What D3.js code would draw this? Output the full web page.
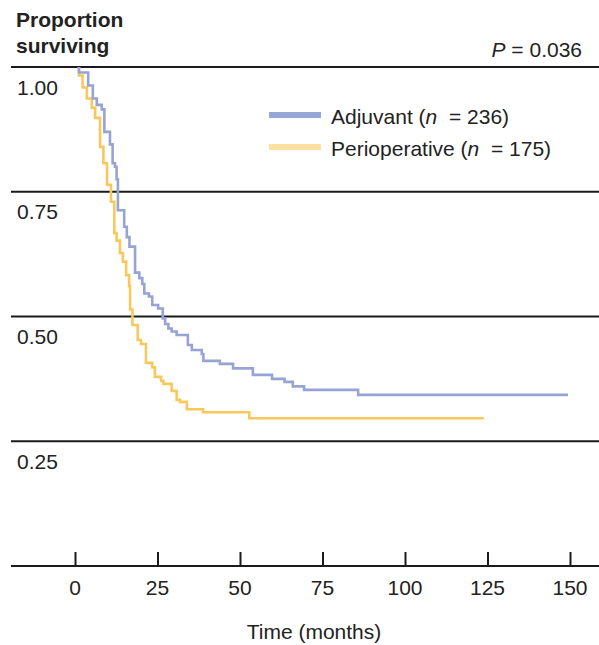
<!DOCTYPE html>
<html>
<head>
<meta charset="utf-8">
<script src="https://cdn.jsdelivr.net/npm/d3@7"></script>
<style>
  html, body { margin: 0; padding: 0; background: #fff; }
  svg { display: block; font-family: "Liberation Sans", Arial, Helvetica, sans-serif; }
</style>
</head>
<body>
<svg id="chart" width="599" height="645"></svg>
<script>
// Kaplan–Meier estimates: drop times (months) and the proportion surviving before each drop
const adjuvantTimes = [1.2, 4.0, 5.4, 6.6, 8.1, 8.9, 10.6, 11.4, 12.1, 12.6, 13.0, 14.9, 15.7, 16.5, 18.2, 19.5, 20.4, 21.0, 22.4, 23.4, 25.2, 26.6, 27.3, 28.3, 29.3, 30.8, 34.2, 35.4, 38.4, 38.9, 43.9, 47.9, 53.9, 59.7, 63.5, 66.0, 69.4, 85.8, 149.4];
const adjuvantSurvival = [1.000, 0.989, 0.963, 0.937, 0.924, 0.915, 0.870, 0.845, 0.807, 0.800, 0.775, 0.713, 0.680, 0.659, 0.640, 0.588, 0.577, 0.565, 0.546, 0.540, 0.523, 0.516, 0.496, 0.485, 0.476, 0.470, 0.463, 0.443, 0.433, 0.425, 0.411, 0.405, 0.396, 0.383, 0.375, 0.369, 0.360, 0.353, 0.343];
// perioperative arm: drop times and the proportion surviving after each drop
const periopTimes = [1.2, 2.3, 3.6, 5.1, 6.1, 7.6, 8.6, 9.7, 10.9, 11.9, 12.6, 13.6, 14.5, 15.5, 16.4, 16.7, 17.4, 19.0, 20.0, 21.5, 23.4, 24.2, 26.1, 26.8, 29.3, 30.8, 31.8, 33.9, 38.8, 52.8, 123.9];
const periopSurvival = [0.983, 0.959, 0.937, 0.918, 0.898, 0.840, 0.807, 0.764, 0.730, 0.667, 0.652, 0.627, 0.610, 0.583, 0.561, 0.514, 0.483, 0.453, 0.445, 0.407, 0.398, 0.379, 0.371, 0.365, 0.351, 0.333, 0.329, 0.314, 0.308, 0.296, 0.296];

const xTicks = [0, 25, 50, 75, 100, 125, 150];
const yTicks = [1.00, 0.75, 0.50, 0.25];
const yTickLabels = ["1.00", "0.75", "0.50", "0.25"];

const seriesNames = ["Adjuvant", "Perioperative"];
const seriesN = [236, 175];

const svg = d3.select("#chart");
const FS = 21;

const x = d3.scaleLinear().domain([0, 150]).range([75, 570]);
const y = d3.scaleLinear().domain([0, 1]).range([566, 67]);

const lineColor = "#1b1b1b";
const textColor = "#222";
const blue = "#97a4d3";
const yellow = "#f8c85c";

// horizontal reference lines at each labelled proportion
svg.append("g").selectAll("line")
  .data(yTicks)
  .join("line")
  .attr("x1", 11).attr("x2", 599)
  .attr("y1", d => y(d)).attr("y2", d => y(d))
  .attr("stroke", lineColor).attr("stroke-width", 2);

svg.append("g").selectAll("text")
  .data(yTicks)
  .join("text")
  .attr("x", 17)
  .attr("y", d => y(d) + 27.5)
  .attr("font-size", FS)
  .attr("fill", textColor)
  .text((d, i) => yTickLabels[i]);

// x axis: baseline, upward ticks, labels underneath
const xAxis = d3.axisTop(x).tickValues(xTicks).tickSize(14).tickFormat("");
const gx = svg.append("g").attr("transform", "translate(0,566)").call(xAxis);
gx.select(".domain").remove();
gx.selectAll(".tick line").attr("stroke", lineColor).attr("stroke-width", 2);
svg.append("line")
  .attr("x1", 11).attr("x2", 599).attr("y1", 566).attr("y2", 566)
  .attr("stroke", lineColor).attr("stroke-width", 2);

svg.append("g").selectAll("text")
  .data(xTicks)
  .join("text")
  .attr("x", d => x(d))
  .attr("y", 594.5)
  .attr("text-anchor", "middle")
  .attr("font-size", FS)
  .attr("fill", textColor)
  .text(d => d);

svg.append("text")
  .attr("x", 314).attr("y", 639)
  .attr("text-anchor", "middle")
  .attr("font-size", FS)
  .attr("fill", textColor)
  .text("Time (months)");

// y axis title, two lines
const yTitle = svg.append("text")
  .attr("font-size", FS).attr("font-weight", "bold").attr("fill", textColor);
yTitle.append("tspan").attr("x", 16).attr("y", 26.5).text("Proportion");
yTitle.append("tspan").attr("x", 16).attr("y", 52.5).text("surviving");

// log-rank p value
const pText = svg.append("text")
  .attr("x", 582).attr("y", 56.5)
  .attr("text-anchor", "end")
  .attr("font-size", FS).attr("fill", textColor);
pText.append("tspan").attr("font-style", "italic").text("P");
pText.append("tspan").text("\u00a0= 0.036");

// survival step curves
const stepLine = d3.line()
  .x(d => x(d[0]))
  .y(d => y(d[1]))
  .curve(d3.curveStepAfter);

// adjuvant: each level holds from its own time until the next drop
const adjData = [[adjuvantTimes[0], 1.0]];
for (let i = 0; i < adjuvantTimes.length - 1; i++) {
  adjData.push([adjuvantTimes[i], adjuvantSurvival[i + 1]]);
}
adjData.push([adjuvantTimes[adjuvantTimes.length - 1], adjuvantSurvival[adjuvantSurvival.length - 1]]);

// perioperative: level after each drop, starting from 1.0
const perData = [[periopTimes[0], 1.0]];
periopTimes.forEach((t, i) => perData.push([t, periopSurvival[i]]));

svg.append("path")
  .datum(perData)
  .attr("d", stepLine)
  .attr("fill", "none")
  .attr("stroke", yellow)
  .attr("stroke-width", 2.6);

svg.append("path")
  .datum(adjData)
  .attr("d", stepLine)
  .attr("fill", "none")
  .attr("stroke", blue)
  .attr("stroke-width", 2.6);

// legend
const legendColors = ["#98a6d6", "#fce2a2"];
const legendY = [115, 147];
const lg = svg.append("g");
seriesNames.forEach((name, i) => {
  lg.append("line")
    .attr("x1", 269).attr("x2", 321)
    .attr("y1", legendY[i]).attr("y2", legendY[i])
    .attr("stroke", legendColors[i]).attr("stroke-width", 6);
  const t = lg.append("text")
    .attr("x", 331).attr("y", legendY[i] + 9)
    .attr("font-size", FS).attr("fill", textColor);
  t.append("tspan").text(name + " (");
  t.append("tspan").attr("font-style", "italic").text("n");
  t.append("tspan").text("\u00a0\u00a0= " + seriesN[i] + ")");
});
</script>
</body>
</html>
